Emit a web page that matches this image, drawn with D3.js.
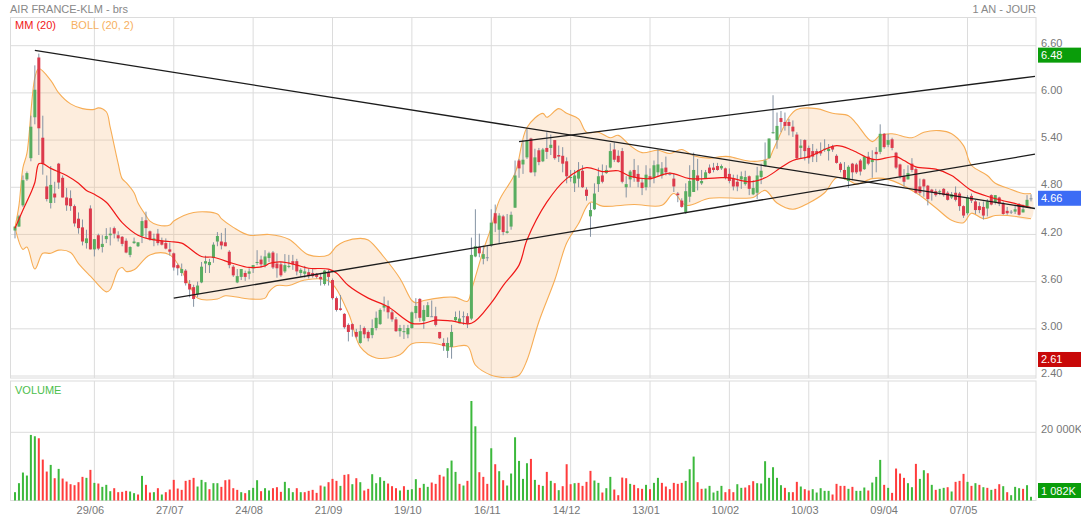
<!DOCTYPE html>
<html>
<head>
<meta charset="utf-8">
<title>AIR FRANCE-KLM</title>
<script src="https://d3js.org/d3.v7.min.js"></script>
<style>
  body { margin: 0; background: #fff; }
  svg { display: block; }
  text { font-family: "Liberation Sans", Arial, sans-serif; font-size: 11px; }
</style>
</head>
<body>
<svg id="chart" width="1081" height="521"></svg>
<script>
// cours journaliers
var opens = [
  4.25,4.30,4.57,4.90,5.17,5.69,6.45,5.43,4.81,4.60,
  4.72,5.10,4.92,4.67,4.66,4.56,4.40,4.29,4.09,4.53,
  4.01,4.19,4.04,4.14,4.19,4.28,4.19,4.17,4.12,3.94,
  4.09,4.05,4.18,4.38,4.24,4.13,4.21,4.12,4.09,4.01,
  3.96,3.81,3.71,3.74,3.57,3.53,3.44,3.59,3.83,3.81,
  3.90,4.11,4.11,4.10,3.98,3.79,3.59,3.66,3.71,3.70,
  3.77,3.84,3.88,3.81,3.90,3.97,3.83,3.82,3.73,3.79,
  3.86,3.86,3.71,3.70,3.72,3.71,3.70,3.66,3.57,3.72,
  3.62,3.39,3.26,3.19,3.05,3.06,2.96,2.82,3.01,2.96,
  2.92,3.01,3.06,3.27,3.29,3.21,3.12,2.97,2.96,2.93,
  3.01,3.20,3.38,3.10,3.15,3.16,3.16,2.96,2.82,2.72,
  2.77,3.11,3.07,3.16,3.16,3.13,3.92,4.04,3.89,3.91,
  4.06,4.47,4.26,4.43,4.22,4.30,4.54,5.14,5.09,5.18,
  5.42,4.99,5.27,5.13,5.30,5.30,5.40,5.21,5.20,5.13,
  4.92,4.85,4.91,5.01,4.77,4.43,4.52,4.84,4.95,4.98,
  5.05,5.28,5.20,5.26,4.80,4.90,5.02,4.97,4.86,4.80,
  4.94,4.92,4.99,4.95,5.05,4.97,4.91,4.72,4.63,4.48,
  4.68,4.74,4.95,4.85,4.91,5.05,5.05,5.07,5.04,5.04,
  4.97,4.91,4.87,4.90,4.84,4.94,4.71,4.73,4.93,5.07,
  5.17,5.49,5.40,5.68,5.63,5.63,5.57,5.47,5.30,5.40,
  5.30,5.26,5.26,5.26,5.28,5.26,5.32,5.20,5.10,5.02,
  4.88,5.10,5.09,5.14,5.03,5.19,5.12,5.25,5.25,5.48,
  5.34,5.41,5.24,5.09,4.94,4.90,5.10,5.03,4.81,4.90,
  4.82,4.77,4.75,4.74,4.78,4.73,4.67,4.73,4.72,4.56,
  4.47,4.69,4.62,4.56,4.55,4.53,4.70,4.61,4.67,4.60,
  4.50,4.49,4.49,4.58,4.48,4.56,4.66
];
var highs = [
  4.30,4.45,4.95,5.00,5.71,6.35,6.50,5.71,4.95,5.07,
  4.87,5.11,4.95,4.79,4.76,4.58,4.48,4.39,4.26,4.57,
  4.14,4.21,4.19,4.28,4.29,4.30,4.24,4.18,4.15,4.05,
  4.16,4.10,4.42,4.49,4.25,4.21,4.27,4.16,4.15,4.10,
  3.97,3.83,3.83,3.76,3.62,3.56,3.60,3.85,3.93,3.89,
  4.10,4.23,4.22,4.28,4.00,3.81,3.76,3.76,3.74,3.77,
  3.81,4.00,3.93,4.00,3.98,3.99,3.96,3.85,3.95,3.94,
  3.94,3.89,3.77,3.80,3.77,3.77,3.71,3.70,3.75,3.75,
  3.64,3.41,3.43,3.20,3.07,3.07,3.00,3.05,3.03,2.98,
  3.12,3.22,3.26,3.41,3.36,3.24,3.15,3.05,3.05,3.05,
  3.22,3.39,3.39,3.30,3.34,3.36,3.28,2.96,2.88,2.89,
  3.05,3.22,3.23,3.22,3.20,4.16,4.52,4.21,4.06,4.05,
  4.52,4.58,4.47,4.45,4.46,4.49,5.14,5.16,5.40,5.54,
  5.43,5.29,5.30,5.30,5.50,5.47,5.40,5.33,5.31,5.18,
  5.02,5.02,5.12,5.08,4.80,4.60,4.85,5.05,5.09,5.08,
  5.36,5.37,5.27,5.30,4.94,5.02,5.16,5.08,4.91,5.08,
  5.04,5.14,5.28,5.12,5.19,4.99,4.98,4.74,4.66,4.85,
  5.08,5.24,5.16,5.02,5.02,5.09,5.11,5.11,5.09,5.05,
  5.04,4.96,4.96,5.00,5.01,4.95,4.89,5.06,5.10,5.37,
  5.42,5.97,5.75,5.77,5.75,5.67,5.65,5.50,5.41,5.41,
  5.33,5.35,5.29,5.37,5.41,5.35,5.34,5.22,5.12,5.12,
  5.08,5.11,5.11,5.16,5.20,5.25,5.27,5.31,5.60,5.49,
  5.48,5.43,5.25,5.10,5.03,5.08,5.17,5.05,4.91,4.91,
  4.83,4.78,4.78,4.77,4.79,4.75,4.74,4.81,4.74,4.57,
  4.70,4.72,4.64,4.61,4.62,4.65,4.71,4.70,4.68,4.62,
  4.55,4.51,4.58,4.60,4.58,4.70,4.71
];
var lows = [
  4.15,4.30,4.55,4.88,5.13,5.60,5.21,4.96,4.62,4.53,
  4.60,4.78,4.67,4.50,4.50,4.30,4.21,4.06,4.02,4.01,
  3.92,4.00,3.97,4.09,4.06,4.15,4.11,4.05,3.96,3.91,
  4.08,4.04,4.09,4.15,4.12,4.05,4.06,4.06,4.01,3.93,
  3.74,3.68,3.67,3.55,3.40,3.28,3.40,3.58,3.71,3.71,
  3.84,4.05,4.01,4.05,3.77,3.66,3.58,3.62,3.61,3.63,
  3.71,3.81,3.78,3.78,3.85,3.76,3.65,3.66,3.71,3.77,
  3.75,3.68,3.66,3.65,3.64,3.65,3.64,3.55,3.55,3.55,
  3.37,3.22,3.23,3.00,2.84,2.90,2.88,2.81,2.88,2.84,
  2.88,2.98,3.05,3.22,3.13,3.09,2.96,2.90,2.87,2.88,
  3.00,3.13,3.09,3.00,3.15,3.15,3.03,2.87,2.72,2.63,
  2.62,3.09,3.07,3.05,3.01,3.11,3.91,3.91,3.82,3.86,
  4.04,4.23,4.08,4.19,4.21,4.26,4.54,4.92,4.97,5.16,
  4.98,4.94,5.08,5.12,5.16,5.21,5.15,5.12,4.99,4.85,
  4.87,4.74,4.80,4.79,4.63,4.17,4.51,4.74,4.85,4.97,
  5.04,5.12,5.11,4.85,4.67,4.80,4.87,4.80,4.70,4.76,
  4.80,4.85,4.93,4.91,4.95,4.95,4.74,4.61,4.54,4.46,
  4.61,4.74,4.76,4.83,4.91,4.97,4.99,5.01,5.02,4.90,
  4.85,4.76,4.75,4.78,4.82,4.70,4.70,4.65,4.84,5.06,
  5.16,5.48,5.29,5.50,5.52,5.46,5.44,5.15,5.16,5.14,
  5.10,5.12,5.12,5.20,5.25,5.14,5.25,5.10,4.99,4.90,
  4.79,4.89,4.97,4.95,5.02,5.08,4.92,4.99,5.22,5.29,
  5.31,5.27,5.03,4.91,4.81,4.90,4.99,4.72,4.70,4.68,
  4.57,4.63,4.68,4.70,4.68,4.63,4.65,4.62,4.50,4.41,
  4.45,4.60,4.46,4.47,4.39,4.43,4.57,4.58,4.56,4.45,
  4.45,4.46,4.46,4.44,4.48,4.56,4.62
];
var closes = [
  4.30,4.43,4.89,4.98,5.57,6.04,5.55,5.10,4.65,4.83,
  4.67,4.86,4.67,4.57,4.56,4.34,4.28,4.11,4.15,4.01,
  4.14,4.02,4.08,4.18,4.21,4.21,4.15,4.08,3.97,4.04,
  4.11,4.10,4.37,4.28,4.14,4.15,4.09,4.07,4.02,3.98,
  3.78,3.77,3.76,3.58,3.50,3.38,3.55,3.79,3.86,3.85,
  4.07,4.18,4.06,4.05,3.81,3.68,3.67,3.76,3.66,3.73,
  3.81,3.85,3.82,3.92,3.96,3.78,3.77,3.68,3.81,3.80,
  3.82,3.73,3.75,3.73,3.67,3.67,3.66,3.63,3.74,3.66,
  3.39,3.24,3.24,3.02,2.96,2.99,2.90,2.97,2.93,2.88,
  3.01,3.14,3.24,3.30,3.21,3.12,2.97,3.01,2.97,3.01,
  3.21,3.29,3.14,3.24,3.30,3.16,3.05,2.88,2.78,2.82,
  2.96,3.15,3.13,3.16,3.07,3.94,4.05,3.96,3.95,3.91,
  4.35,4.34,4.44,4.23,4.24,4.45,4.95,5.04,5.15,5.40,
  4.99,5.18,5.12,5.28,5.25,5.34,5.17,5.19,5.10,4.94,
  4.93,4.95,5.02,4.80,4.69,4.51,4.72,4.94,4.87,5.02,
  5.26,5.15,5.12,4.87,4.84,5.00,4.92,4.87,4.79,4.96,
  4.90,5.08,5.09,5.04,4.99,4.97,4.81,4.70,4.55,4.75,
  4.88,5.02,4.88,4.88,4.99,4.98,5.02,5.02,5.07,4.92,
  4.88,4.81,4.81,4.94,4.93,4.78,4.79,4.95,5.01,5.14,
  5.42,5.50,5.58,5.63,5.58,5.58,5.51,5.17,5.33,5.26,
  5.17,5.19,5.22,5.23,5.29,5.29,5.28,5.11,5.02,4.91,
  5.06,4.99,4.99,5.00,5.19,5.10,5.15,5.22,5.48,5.31,
  5.40,5.30,5.05,4.94,4.87,4.98,5.02,4.73,4.73,4.81,
  4.65,4.74,4.70,4.75,4.70,4.64,4.71,4.64,4.56,4.44,
  4.67,4.63,4.51,4.51,4.44,4.62,4.58,4.70,4.59,4.46,
  4.47,4.49,4.52,4.45,4.52,4.64,4.66
];

// volumes en milliers de titres
var volumes = [
  2440,5080,8200,7320,19230,18840,18250,12000,8490,10440,
  6540,9270,6440,5560,4780,4490,5370,6930,6640,8980,
  5170,4980,4000,4590,2730,3610,2440,2540,2830,2640,
  2150,1760,7220,4590,2340,2440,3610,1760,2440,3220,
  6050,3510,3120,5760,6050,6640,4100,6050,5370,3320,
  5080,5080,4000,5950,6150,3610,3120,2440,2150,3030,
  3710,5950,2730,3610,2930,3610,3900,2540,5470,3610,
  2440,3610,2440,2440,2830,3120,2240,4390,4100,5370,
  6340,5760,4290,7520,7710,4780,6540,5370,2930,3420,
  7710,5080,6830,5760,4980,4200,3610,2930,4200,3120,
  3320,6250,3710,4880,4000,5270,4880,7520,7030,9470,
  11710,8390,4880,4390,5760,29180,21760,8300,6930,4880,
  15320,10640,8590,5950,4390,7910,18540,11610,6340,10930,
  12200,6050,4590,4290,8390,5760,5080,3030,4200,10640,
  4780,5080,5170,4290,5470,8690,5860,5170,2340,3610,
  6930,3220,1560,6730,6540,4880,4590,3610,3420,4590,
  3320,5170,6640,5170,4100,3320,5170,4880,5170,5760,
  9170,12880,5370,3420,3510,4290,2340,2830,4290,2440,
  3320,2440,4780,3710,3810,4490,5660,5080,4980,11520,
  6640,9760,6640,4490,3710,2440,2440,5470,4100,3320,
  2930,3320,2340,3610,2830,2830,1760,4880,4290,4290,
  3420,4000,2830,2830,3810,2930,5270,6930,11910,4590,
  3710,2240,9370,7910,6640,5080,3900,10740,6340,8880,
  8000,4590,3120,3420,3710,3900,2640,5470,5760,7810,
  5470,4290,5080,4590,3900,3710,3120,3420,4780,4200,
  2440,1560,4000,3610,3420,4490,1082
];
// couleur de chaque barre de volume : g hausse, r baisse
var volumeDirs = (
  "ggggggrrrg" + "rgrrrrrrgr" + "grgggrrrrg" + "grgrrgrgrr" +
  "rrrrrrgggr" + "ggrrrrrgrg" + "ggrggrrrgg" + "grgrrrrrgr" +
  "rrgrrgrgrr" + "ggggrrrgrg" + "ggrggrrrrg" + "ggrgrggrrr" +
  "grgrgggggg" + "rgrgrgrgrr" + "rgrrrrggrg" + "grrrrgrrrg" +
  "rggrrrrrrg" + "ggrrgggggr" + "rrggrrrggg" + "ggggrgrrgr" +
  "rgggggrrrr" + "grgggrgggr" + "grrrrggrgg" + "rgrggrgrrr" +
  "grgrgrgrrg" + "rgggrgg"
).split("");

// moyenne mobile et bandes de Bollinger, relevées par points
var upperAt = [0,1,2,3,5,6,9,11,14,17,20,21,23,24,26,27,28,30,31,33,34,36,39,40,45,51,52,55,59,64,69,74,79,81,83,87,89,93,97,100,101,103,108,111,114,115,118,120,122,126,129,133,134,137,139,142,144,147,150,152,155,158,162,165,168,171,175,178,180,184,187,190,191,195,197,202,206,210,212,216,218,221,226,229,233,236,239,241,245,247,250,254,256];
var upperBand = [4.29,4.57,5.05,5.23,6.19,6.31,6.16,6.00,5.86,5.80,5.79,5.81,5.76,5.56,5.10,4.91,4.86,4.73,4.60,4.44,4.37,4.32,4.32,4.37,4.48,4.46,4.40,4.29,4.19,4.20,4.14,3.94,3.94,4.05,4.11,4.15,4.13,3.91,3.64,3.36,3.33,3.36,3.40,3.40,3.35,3.49,4.00,4.29,4.63,4.98,5.56,5.74,5.69,5.80,5.74,5.67,5.50,5.50,5.43,5.46,5.33,5.24,5.27,5.23,5.28,5.20,5.17,5.19,5.19,5.14,5.13,5.17,5.27,5.69,5.79,5.80,5.74,5.71,5.61,5.38,5.46,5.48,5.43,5.50,5.52,5.48,5.33,5.08,4.95,4.85,4.79,4.72,4.72];
var lowerAt = [0,2,3,5,7,9,11,14,16,19,23,24,26,27,28,30,34,39,44,46,51,53,59,63,64,66,69,73,79,84,87,91,97,100,105,110,114,116,120,123,125,127,129,132,136,139,142,145,148,156,163,166,169,175,183,186,189,192,196,200,204,207,210,212,216,220,227,232,236,239,241,244,247,250,256];
var lowerBand = [4.29,4.01,4.04,3.76,3.96,3.96,4.00,3.97,3.83,3.67,3.47,3.50,3.75,3.78,3.73,3.75,3.94,3.94,3.55,3.39,3.38,3.42,3.38,3.39,3.47,3.55,3.55,3.62,3.61,3.20,2.77,2.63,2.67,2.81,2.82,2.77,2.78,2.54,2.41,2.38,2.38,2.41,2.60,3.09,3.62,4.09,4.34,4.61,4.56,4.58,4.57,4.72,4.57,4.66,4.66,4.67,4.76,4.60,4.52,4.60,4.73,4.92,4.89,4.84,4.91,4.90,4.73,4.54,4.38,4.35,4.47,4.40,4.44,4.44,4.40];
var maAt = [0,2,4,5,6,7,9,13,16,18,20,23,27,31,35,39,42,47,50,55,59,63,64,67,71,74,79,81,84,89,94,100,103,106,110,115,120,123,127,129,134,139,144,148,152,155,160,165,170,177,180,185,189,193,196,200,207,211,215,217,222,224,227,232,236,241,246,253,256];
var maValues = [4.28,4.51,4.73,4.86,5.10,5.10,5.04,4.95,4.85,4.76,4.71,4.61,4.35,4.19,4.13,4.11,4.09,3.92,3.91,3.83,3.78,3.80,3.83,3.85,3.81,3.77,3.76,3.71,3.55,3.39,3.28,3.07,3.07,3.11,3.10,3.07,3.33,3.55,3.81,4.13,4.61,4.91,5.05,5.00,5.01,4.94,4.91,4.98,4.91,4.92,4.92,4.87,4.92,5.05,5.14,5.19,5.33,5.27,5.17,5.15,5.19,5.14,5.06,5.03,4.95,4.76,4.67,4.58,4.54];

// droites tracées à la main sur le graphique : [indice, cours] aux extrémités
var trendLines = [
  [[5, 6.54], [257, 4.53]],
  [[40, 3.39], [257, 5.22]],
  [[127, 5.38], [257, 6.21]]
];

var priceTicks = [2.4, 3.0, 3.6, 4.2, 4.8, 5.4, 6.0, 6.6];
var dateIndex = [20, 40, 60, 80, 100, 120, 140, 160, 180, 200, 220, 240];
var dateLabels = ["29/06", "27/07", "24/08", "21/09", "19/10", "16/11", "14/12", "13/01", "10/02", "10/03", "09/04", "07/05"];

var gridColor = "#dcdcdc";
var left = 10.5, right = 1036;
var priceTop = 17.5, priceBottom = 378;
var volTop = 381, volBottom = 500.5;

var svg = d3.select("#chart");

// échelles
var x = d3.scaleLinear().domain([0, 256]).range([15, 1031]);
var y = d3.scaleLinear().domain([2.4, 6.6]).range([376, 45.7]);
var yVol = d3.scaleLinear().domain([0, 20000]).range([volBottom, 432.3]);

svg.append("clipPath").attr("id", "priceClip").append("rect")
  .attr("x", left).attr("y", priceTop)
  .attr("width", right - left).attr("height", priceBottom - priceTop);

// cadres des deux panneaux
[[priceTop, priceBottom], [volTop, volBottom]].forEach(function(p) {
  svg.append("rect")
    .attr("x", left).attr("y", p[0])
    .attr("width", right - left).attr("height", p[1] - p[0])
    .attr("fill", "none").attr("stroke", gridColor);
});

// grilles et axes
var axisY = d3.axisRight(y).tickValues(priceTicks).tickSize(-(right - left))
  .tickFormat(d3.format(".2f")).offset(0);
var gy = svg.append("g").attr("transform", "translate(" + right + ",0)").call(axisY);
var axisXTop = d3.axisBottom(x).tickValues(dateIndex).tickSize(-(priceBottom - priceTop))
  .tickFormat("").offset(0);
var gxTop = svg.append("g").attr("transform", "translate(0," + priceBottom + ")").call(axisXTop);
var axisVol = d3.axisRight(yVol).tickValues([20000]).tickSize(-(right - left))
  .tickFormat(function() { return "20 000K"; }).offset(0);
var gv = svg.append("g").attr("transform", "translate(" + right + ",0)").call(axisVol);
var axisX = d3.axisBottom(x).tickValues(dateIndex).tickSize(-(volBottom - volTop))
  .tickFormat(function(d) { return dateLabels[dateIndex.indexOf(d)]; }).offset(0);
var gx = svg.append("g").attr("transform", "translate(0," + volBottom + ")").call(axisX);

[gy, gxTop, gv, gx].forEach(function(g) {
  g.select(".domain").remove();
  g.selectAll("line").attr("stroke", gridColor);
  g.selectAll("text").attr("fill", "#777").style("font-size", "11px")
    .style("font-family", '"Liberation Sans", Arial, sans-serif');
});
gy.selectAll("text").attr("x", 5).attr("dy", "0.1em");
gv.selectAll("text").attr("x", 5).attr("dy", "0.1em");
gx.selectAll("text").attr("x", -4).attr("y", 6).attr("dy", "0.71em");

// bandes de Bollinger
var plot = svg.append("g").attr("clip-path", "url(#priceClip)");
var upperPts = upperAt.map(function(d, i) { return [x(d), y(upperBand[i])]; });
var lowerPts = lowerAt.map(function(d, i) { return [x(d), y(lowerBand[i])]; });
var line = d3.line().curve(d3.curveCatmullRom);
plot.append("path")
  .attr("d", line(upperPts.concat(lowerPts.slice().reverse())) + "Z")
  .attr("fill", "#f8b878").attr("fill-opacity", 0.25);
[upperPts, lowerPts].forEach(function(pts) {
  plot.append("path").attr("d", line(pts))
    .attr("fill", "none").attr("stroke", "#f7ad55").attr("stroke-width", 1.1);
});

// bougies
var candles = plot.append("g").selectAll("g").data(opens).enter().append("g");
candles.append("line")
  .attr("x1", function(d, i) { return x(i); })
  .attr("x2", function(d, i) { return x(i); })
  .attr("y1", function(d, i) { return y(highs[i]); })
  .attr("y2", function(d, i) { return y(lows[i]); })
  .attr("stroke", "#8593a3").attr("stroke-width", 1);
candles.append("rect")
  .attr("x", function(d, i) { return x(i) - 1.5; })
  .attr("width", 3)
  .attr("y", function(d, i) { return y(Math.max(d, closes[i])); })
  .attr("height", function(d, i) { return Math.max(1, Math.abs(y(d) - y(closes[i]))); })
  .attr("fill", function(d, i) {
    if (closes[i] > d) return "#58ad60";
    if (closes[i] < d) return "#dc3a4c";
    return "#8593a3";
  });

// moyenne mobile 20
plot.append("path")
  .attr("d", line(maAt.map(function(d, i) { return [x(d), y(maValues[i])]; })))
  .attr("fill", "none").attr("stroke", "#f01818").attr("stroke-width", 1.2);

// droites
trendLines.forEach(function(t) {
  svg.append("line")
    .attr("x1", x(t[0][0])).attr("y1", y(t[0][1]))
    .attr("x2", x(t[1][0])).attr("y2", y(t[1][1]))
    .attr("stroke", "#1c1c1c").attr("stroke-width", 1.3);
});

// volumes
svg.append("g").selectAll("rect").data(volumes).enter().append("rect")
  .attr("x", function(d, i) { return x(i) - 1; })
  .attr("width", 2)
  .attr("y", function(d) { return yVol(d); })
  .attr("height", function(d) { return volBottom - yVol(d); })
  .attr("fill", function(d, i) { return volumeDirs[i] == "g" ? "#3cb93c" : "#ff3c3c"; });

// étiquettes de droite
function badge(top, label, color) {
  svg.append("rect").attr("x", 1038).attr("y", top).attr("width", 43).attr("height", 15).attr("fill", color);
  svg.append("text").attr("x", 1041).attr("y", top + 11.5).attr("fill", "#fff").text(label);
}
badge(y(6.48) - 7.5, "6.48", "#0a9d0a");
badge(y(2.61) - 7.5, "2.61", "#c80808");
badge(y(4.66) - 7.5, "4.66", "#3c6cf5");
badge(483, "1 082K", "#0a9d0a");

// titres et légendes
svg.append("text").attr("x", 10).attr("y", 13).attr("fill", "#888").text("AIR FRANCE-KLM - brs");
svg.append("text").attr("x", 1036).attr("y", 13).attr("text-anchor", "end").attr("fill", "#888").text("1 AN - JOUR");
svg.append("text").attr("x", 15).attr("y", 29).attr("fill", "#f01818").text("MM (20)");
svg.append("text").attr("x", 71).attr("y", 29).attr("fill", "#f7b060").text("BOLL (20, 2)");
svg.append("text").attr("x", 15).attr("y", 394).attr("fill", "#4cc04c").text("VOLUME");
</script>
</body>
</html>
